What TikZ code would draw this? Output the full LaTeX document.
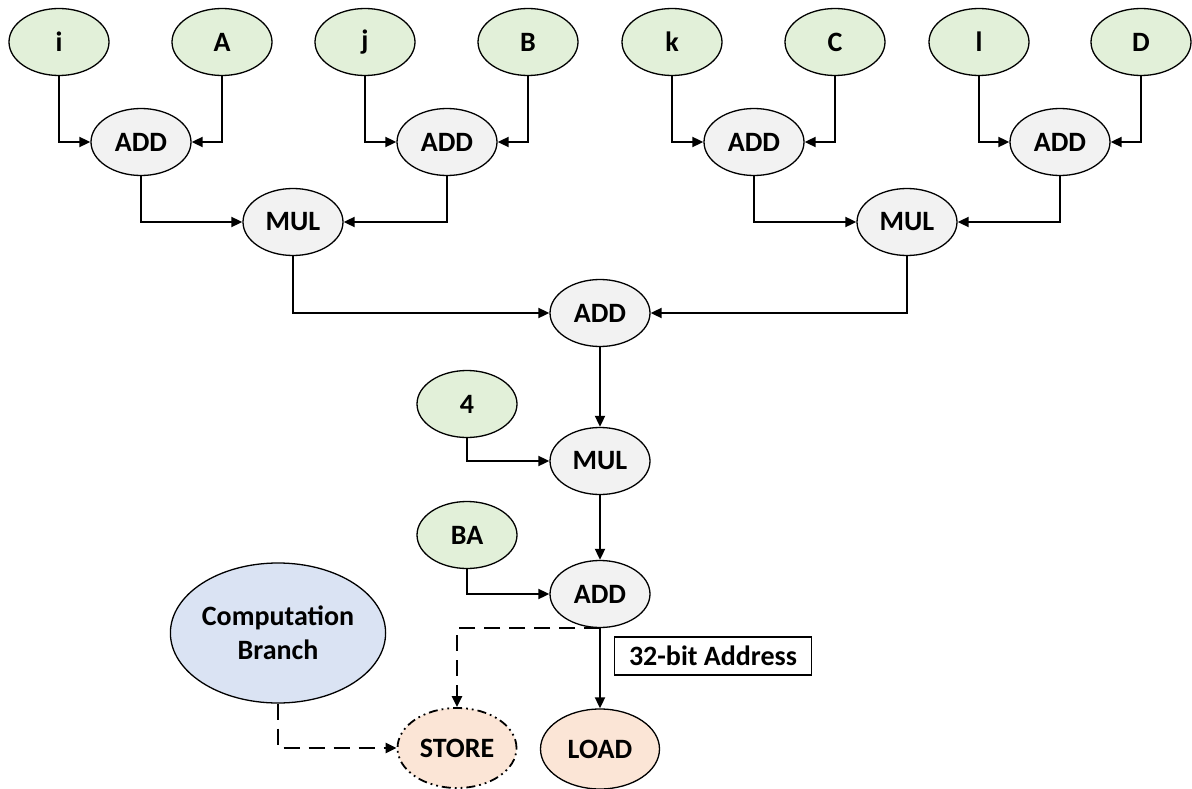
\documentclass[tikz,border=0pt]{standalone}
\usepackage{fontspec}
\setmainfont{Carlito}
\usetikzlibrary{shapes.geometric,arrows.meta}
\definecolor{leafgreen}{HTML}{E2F0D9}
\definecolor{opgray}{HTML}{F2F2F2}
\definecolor{branchblue}{HTML}{DAE3F3}
\definecolor{memorange}{HTML}{FBE5D6}
\tikzset{
  oval/.style={ellipse, draw=black, line width=1.3pt, inner sep=0pt,
    minimum width=100pt, minimum height=67pt,
    font=\fontsize{28}{32}\selectfont\bfseries, align=center},
  leaf/.style={oval, fill=leafgreen},
  op/.style={oval, fill=opgray},
  memop/.style={oval, fill=memorange, minimum width=119pt, minimum height=80pt},
  flow/.style={line width=1.8pt, -{Triangle[length=11pt,width=10pt]}},
  dflow/.style={flow, line width=2.4pt, dash pattern=on 16pt off 9pt},
}
\begin{document}
\begin{tikzpicture}[x=1pt,y=-1pt]
\useasboundingbox (0,0) rectangle (1192,789);

% operand leaves
\node[leaf] (i) at (59,42) {i};
\node[leaf] (A) at (222,42) {A};
\node[leaf] (j) at (365,42) {j};
\node[leaf] (B) at (528,42) {B};
\node[leaf] (k) at (672,42) {k};
\node[leaf] (C) at (835,42) {C};
\node[leaf] (l) at (979,42) {l};
\node[leaf] (D) at (1141,42) {D};

% index sums
\node[op] (add1) at (141,142) {ADD};
\node[op] (add2) at (447,142) {ADD};
\node[op] (add3) at (754,142) {ADD};
\node[op] (add4) at (1060,142) {ADD};

% products
\node[op] (mul1) at (293,222) {MUL};
\node[op] (mul2) at (907,222) {MUL};

% address arithmetic
\node[op] (add5) at (600,313) {ADD};
\node[leaf] (four) at (467,404) {4};
\node[op] (mul3) at (600,461) {MUL};
\node[leaf] (ba) at (467,535) {BA};
\node[op] (add6) at (600,594) {ADD};

% memory operations
\node[ellipse, draw=black, line width=1.3pt, fill=branchblue, inner sep=0pt,
  minimum width=210pt, minimum height=140pt,
  font=\fontsize{28}{34}\selectfont\bfseries, align=center] (cb) at (278,633) {Computation\\Branch};
\node[memop, line width=1.8pt, dash pattern=on 9pt off 4pt on 1.8pt off 4pt on 1.8pt off 4pt] (store) at (457,748) {STORE};
\node[memop] (load) at (600,749) {LOAD};
\node[draw=black, line width=1.3pt, minimum width=197pt, minimum height=38pt, inner sep=0pt,
  font=\fontsize{28}{32}\selectfont\bfseries] (addr) at (713,656) {32-bit Address};

% data flow
\draw[flow] (i.south) |- (add1.west);
\draw[flow] (A.south) |- (add1.east);
\draw[flow] (j.south) |- (add2.west);
\draw[flow] (B.south) |- (add2.east);
\draw[flow] (k.south) |- (add3.west);
\draw[flow] (C.south) |- (add3.east);
\draw[flow] (l.south) |- (add4.west);
\draw[flow] (D.south) |- (add4.east);
\draw[flow] (add1.south) |- (mul1.west);
\draw[flow] (add2.south) |- (mul1.east);
\draw[flow] (add3.south) |- (mul2.west);
\draw[flow] (add4.south) |- (mul2.east);
\draw[flow] (mul1.south) |- (add5.west);
\draw[flow] (mul2.south) |- (add5.east);
\draw[flow] (add5.south) -- (mul3.north);
\draw[flow] (four.south) |- (mul3.west);
\draw[flow] (mul3.south) -- (add6.north);
\draw[flow] (ba.south) |- (add6.west);
\draw[flow] (add6.south) -- (load.north);
\draw[dflow] (add6.south) -| (store.north);
\draw[dflow] (cb.south) |- (store.west);
\end{tikzpicture}
\end{document}
